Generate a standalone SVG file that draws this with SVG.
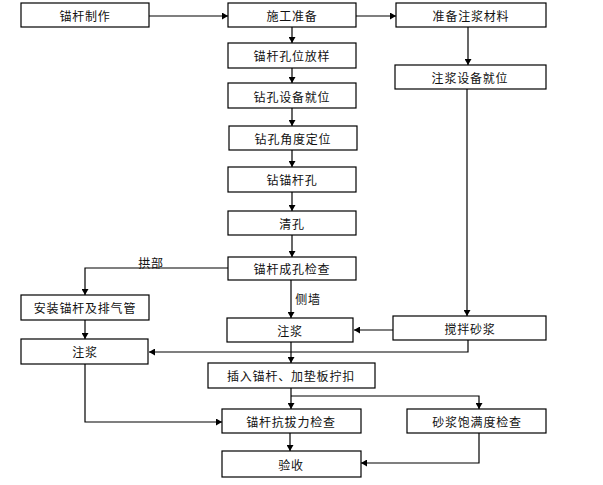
<svg xmlns="http://www.w3.org/2000/svg" width="603" height="485" viewBox="0 0 603 485">
<style>
.b{fill:#fff;stroke:#000;stroke-width:1.2}
.t{font-family:"Noto Sans CJK SC","Noto Sans",sans-serif;font-size:12px;letter-spacing:0.8px;fill:#111;text-anchor:middle;dominant-baseline:central}
.l{fill:none;stroke:#000;stroke-width:1.2}
</style>
<defs>
<marker id="a" markerWidth="7" markerHeight="7" refX="6" refY="3.5" orient="auto" markerUnits="userSpaceOnUse">
<path d="M0,0 L6,3.5 L0,7 Z" fill="#000"/>
</marker>
</defs>
<rect width="603" height="485" fill="#fff"/>
<g id="connectors">
<path class="l" d="M149,16 H228" marker-end="url(#a)"/>
<path class="l" d="M356,16 H396" marker-end="url(#a)"/>
<path class="l" d="M292,27 V43" marker-end="url(#a)"/>
<path class="l" d="M292,68 V83" marker-end="url(#a)"/>
<path class="l" d="M292,108 V126" marker-end="url(#a)"/>
<path class="l" d="M292,150 V167" marker-end="url(#a)"/>
<path class="l" d="M292,192 V211" marker-end="url(#a)"/>
<path class="l" d="M292,235 V257" marker-end="url(#a)"/>
<path class="l" d="M468,27 V65" marker-end="url(#a)"/>
<path class="l" d="M467,89 V316" marker-end="url(#a)"/>
<path class="l" d="M228,268 H85 V295" marker-end="url(#a)"/>
<path class="l" d="M291,280 V318" marker-end="url(#a)"/>
<path class="l" d="M85,320 V339" marker-end="url(#a)"/>
<path class="l" d="M393,330 H354" marker-end="url(#a)"/>
<path class="l" d="M468,340 V352 H149" marker-end="url(#a)"/>
<path class="l" d="M291,342 V363" marker-end="url(#a)"/>
<path class="l" d="M291,388 V409" marker-end="url(#a)"/>
<path class="l" d="M291,396 H479 V409" marker-end="url(#a)"/>
<path class="l" d="M85,364 V422 H222" marker-end="url(#a)"/>
<path class="l" d="M290,433 V451" marker-end="url(#a)"/>
<path class="l" d="M479,433 V463 H361" marker-end="url(#a)"/>
<text class="t" x="151" y="262">拱部</text>
<text class="t" x="308" y="298">侧墙</text>
</g>
<g id="n1"><rect class="b" x="21" y="3" width="128" height="24"/><text class="t" x="85" y="15">锚杆制作</text></g>
<g id="n2"><rect class="b" x="228" y="3" width="128" height="24"/><text class="t" x="292" y="15">施工准备</text></g>
<g id="n3"><rect class="b" x="396" y="3" width="150" height="24"/><text class="t" x="471" y="15">准备注浆材料</text></g>
<g id="n4"><rect class="b" x="228" y="43" width="128" height="25"/><text class="t" x="292" y="55">锚杆孔位放样</text></g>
<g id="n5"><rect class="b" x="395" y="65" width="151" height="24"/><text class="t" x="470" y="77">注浆设备就位</text></g>
<g id="n6"><rect class="b" x="228" y="83" width="128" height="25"/><text class="t" x="292" y="96">钻孔设备就位</text></g>
<g id="n7"><rect class="b" x="229" y="126" width="128" height="24"/><text class="t" x="293" y="138">钻孔角度定位</text></g>
<g id="n8"><rect class="b" x="228" y="167" width="128" height="25"/><text class="t" x="292" y="179">钻锚杆孔</text></g>
<g id="n9"><rect class="b" x="228" y="211" width="128" height="24"/><text class="t" x="292" y="223">清孔</text></g>
<g id="n10"><rect class="b" x="228" y="257" width="128" height="23"/><text class="t" x="292" y="268">锚杆成孔检查</text></g>
<g id="n11"><rect class="b" x="21" y="295" width="128" height="25"/><text class="t" x="85" y="307">安装锚杆及排气管</text></g>
<g id="n12"><rect class="b" x="227" y="318" width="126" height="24"/><text class="t" x="290" y="330">注浆</text></g>
<g id="n13"><rect class="b" x="393" y="316" width="153" height="24"/><text class="t" x="470" y="328">搅拌砂浆</text></g>
<g id="n14"><rect class="b" x="21" y="339" width="127" height="25"/><text class="t" x="85" y="351">注浆</text></g>
<g id="n15"><rect class="b" x="208" y="363" width="167" height="25"/><text class="t" x="291" y="375">插入锚杆、加垫板拧扣</text></g>
<g id="n16"><rect class="b" x="222" y="409" width="139" height="24"/><text class="t" x="291" y="421">锚杆抗拔力检查</text></g>
<g id="n17"><rect class="b" x="407" y="409" width="139" height="24"/><text class="t" x="477" y="421">砂浆饱满度检查</text></g>
<g id="n18"><rect class="b" x="222" y="451" width="139" height="26"/><text class="t" x="291" y="464">验收</text></g>
</svg>
